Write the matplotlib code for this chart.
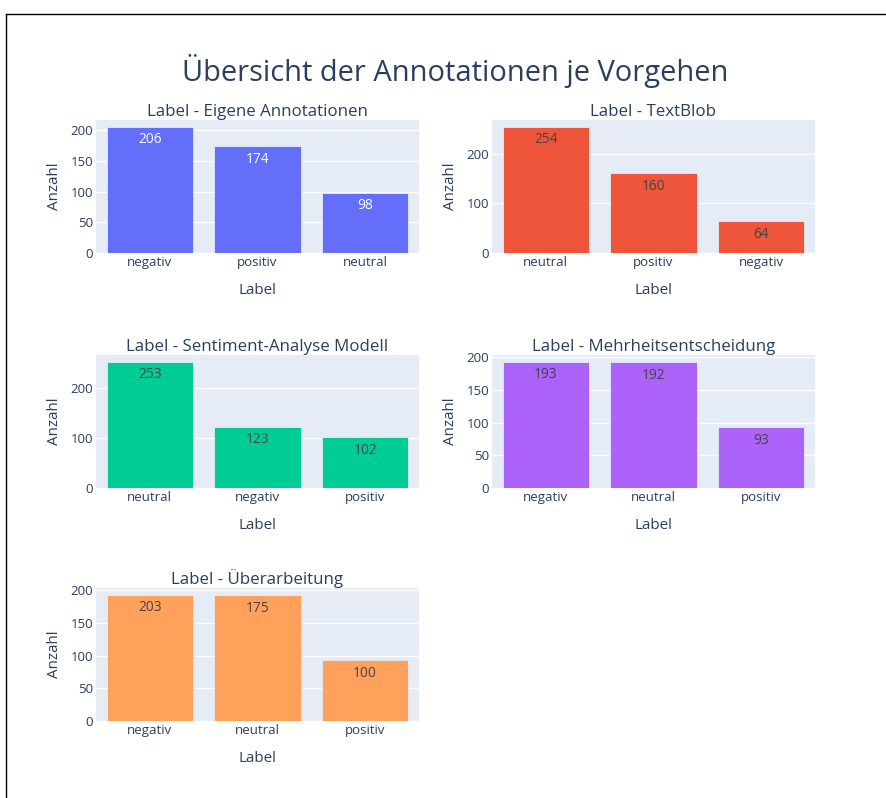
import matplotlib
matplotlib.use("Agg")
import matplotlib.pyplot as plt
from matplotlib.lines import Line2D

plt.rcParams['font.family'] = ['Open Sans', 'DejaVu Sans']

# =======================
# Daten
# =======================
titel = "Übersicht der Annotationen je Vorgehen"

panel_titel = [
    "Label - Eigene Annotationen",
    "Label - TextBlob",
    "Label - Sentiment-Analyse Modell",
    "Label - Mehrheitsentscheidung",
    "Label - Überarbeitung",
]

kategorien = [
    ["negativ", "positiv", "neutral"],
    ["neutral", "positiv", "negativ"],
    ["neutral", "negativ", "positiv"],
    ["negativ", "neutral", "positiv"],
    ["negativ", "neutral", "positiv"],
]

# Balkenhöhen (wie im Bild gezeichnet)
werte = [
    [206, 174, 98],
    [254, 160, 64],
    [253, 123, 102],
    [193, 192, 93],
    [193, 192, 93],
]

# Beschriftungen in den Balken
texte = [
    ["206", "174", "98"],
    ["254", "160", "64"],
    ["253", "123", "102"],
    ["193", "192", "93"],
    ["203", "175", "100"],
]

farben = ["#636EFA", "#EF553B", "#00CC96", "#AB63FA", "#FFA15A"]
textfarben = ["white", "#444444", "#444444", "#444444", "#444444"]

y_ticks = [
    [0, 50, 100, 150, 200],
    [0, 100, 200],
    [0, 100, 200],
    [0, 50, 100, 150, 200],
    [0, 50, 100, 150, 200],
]

# =======================
# Layout (Pixel)
# =======================
W, H = 887, 798
fig = plt.figure(figsize=(W / 100, H / 100), dpi=100)
fig.patch.set_facecolor("white")

spalten_x = [96, 492]
zeilen_y = [(120, 253), (355, 488), (588, 721)]
breite = 323

txt_farbe = "#2a3f5f"

for i in range(5):
    r, c = divmod(i, 2)
    x0 = spalten_x[c]
    top, bot = zeilen_y[r]
    ax = fig.add_axes([x0 / W, 1 - bot / H, breite / W, (bot - top) / H])
    ax.set_facecolor("#E5ECF6")
    for s in ax.spines.values():
        s.set_visible(False)

    pos = list(range(len(kategorien[i])))
    ax.bar(pos, werte[i], width=0.8, color=farben[i],
           edgecolor="#E5ECF6", linewidth=0.6, zorder=3)
    ax.set_xlim(-0.5, len(pos) - 0.5)
    ax.set_ylim(0, max(werte[i]) / 0.95)
    ax.set_yticks(y_ticks[i])
    ax.set_xticks(pos)
    ax.set_xticklabels(kategorien[i])
    ax.grid(axis="y", color="white", linewidth=1, zorder=0)
    ax.set_axisbelow(True)
    ax.tick_params(length=0, labelsize=9.5, colors=txt_farbe)
    ax.tick_params(axis="x", pad=2)
    ax.tick_params(axis="y", pad=2)

    for p, v, t in zip(pos, werte[i], texte[i]):
        ax.annotate(t, (p, v), xytext=(0, -4), textcoords="offset points",
                    ha="center", va="top", fontsize=9.9, color=textfarben[i],
                    zorder=4)

    ax.set_title(panel_titel[i], fontsize=12.2, color=txt_farbe, pad=3)
    ax.set_xlabel("Label", fontsize=10.9, color=txt_farbe, labelpad=10)
    ax.set_ylabel("Anzahl", fontsize=10.9, color=txt_farbe, labelpad=6)

fig.text(455 / W, 1 - 71 / H, titel, ha="center", va="center",
         fontsize=20.9, color=txt_farbe)

# Rahmen
fig.add_artist(Line2D([6 / W, 1], [1 - 14 / H, 1 - 14 / H], color="black",
                      linewidth=1, transform=fig.transFigure))
fig.add_artist(Line2D([6 / W, 6 / W], [0, 1 - 14 / H], color="black",
                      linewidth=1, transform=fig.transFigure))

fig.savefig("out.png", dpi=100)
